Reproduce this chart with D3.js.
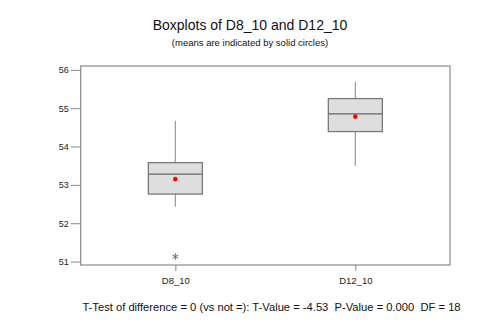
<!DOCTYPE html>
<html><head><meta charset="utf-8">
<script src="https://cdn.jsdelivr.net/npm/d3@7"></script>
<style>body{margin:0;background:#fff}svg{display:block}text{font-family:Arial,"Liberation Sans",sans-serif}</style>
</head><body>
<svg id="c" width="500" height="332"></svg>
<script>
const categories = ["D8_10", "D12_10"];
const whiskerLow = [52.43, 53.50];
const q1 = [52.76, 54.39];
const median = [53.28, 54.85];
const q3 = [53.58, 55.25];
const whiskerHigh = [54.67, 55.68];
const means = [53.15, 54.78];
const outliers = [[51.13], []];
const yTicks = [51, 52, 53, 54, 55, 56];
const title = "Boxplots of D8_10 and D12_10";
const subtitle = "(means are indicated by solid circles)";
const footer = "T-Test of difference = 0 (vs not =): T-Value = -4.53  P-Value = 0.000  DF = 18";

const svg = d3.select("#c");
const L = 80.7, R = 450, T = 66, B = 265;
const y = d3.scaleLinear().domain([50.91, 56.1]).range([B, T]);
const x = d3.scalePoint().domain(categories).range([L, R]).padding(0.526);
const boxW = 54;
const grey = "#7a7a7a";

svg.append("rect").attr("x", L).attr("y", T).attr("width", R - L).attr("height", B - T)
  .attr("fill", "#fff").attr("stroke", "#8a8a8a").attr("stroke-width", 1.2);

const yAxis = svg.append("g").attr("transform", `translate(${L},0)`)
  .call(d3.axisLeft(y).tickValues(yTicks).tickSize(10).tickPadding(2).tickFormat(d3.format("d")));
yAxis.select(".domain").remove();
yAxis.selectAll("line").attr("stroke", "#8a8a8a");
yAxis.selectAll("text").attr("font-size", 9).attr("fill", "#222");

const xAxis = svg.append("g").attr("transform", `translate(0,${B})`)
  .call(d3.axisBottom(x).tickSize(6).tickPadding(6));
xAxis.select(".domain").remove();
xAxis.selectAll("line").attr("stroke", "#8a8a8a");
xAxis.selectAll("text").attr("font-size", 9.5).attr("fill", "#222");

const star = d3.symbol().type(d3.symbolAsterisk).size(28);
categories.forEach((c, i) => {
  const cx = x(c);
  const g = svg.append("g");
  g.append("line").attr("x1", cx).attr("x2", cx).attr("y1", y(whiskerHigh[i])).attr("y2", y(q3[i]))
    .attr("stroke", "#999").attr("stroke-width", 1.2);
  g.append("line").attr("x1", cx).attr("x2", cx).attr("y1", y(q1[i])).attr("y2", y(whiskerLow[i]))
    .attr("stroke", "#999").attr("stroke-width", 1.2);
  g.append("rect").attr("x", cx - boxW / 2).attr("y", y(q3[i])).attr("width", boxW)
    .attr("height", y(q1[i]) - y(q3[i])).attr("fill", "#dedede").attr("stroke", grey).attr("stroke-width", 1.3);
  g.append("line").attr("x1", cx - boxW / 2).attr("x2", cx + boxW / 2).attr("y1", y(median[i])).attr("y2", y(median[i]))
    .attr("stroke", "#666").attr("stroke-width", 1.3);
  g.append("circle").attr("cx", cx).attr("cy", y(means[i])).attr("r", 2.3).attr("fill", "#f00");
  outliers[i].forEach(v => {
    g.append("path").attr("d", star()).attr("transform", `translate(${cx},${y(v)})`)
      .attr("fill", "none").attr("stroke", "#666").attr("stroke-width", 1);
  });
});

svg.append("text").attr("x", 250).attr("y", 30).attr("text-anchor", "middle").attr("font-size", 14).attr("fill", "#111").text(title);
svg.append("text").attr("x", 250).attr("y", 46).attr("text-anchor", "middle").attr("font-size", 9.5).attr("fill", "#111").text(subtitle);
svg.append("text").attr("x", 271.5).attr("y", 311).attr("text-anchor", "middle").attr("font-size", 11.2).attr("fill", "#111")
  .attr("xml:space", "preserve").style("white-space", "pre").text(footer);
</script>
</body></html>
